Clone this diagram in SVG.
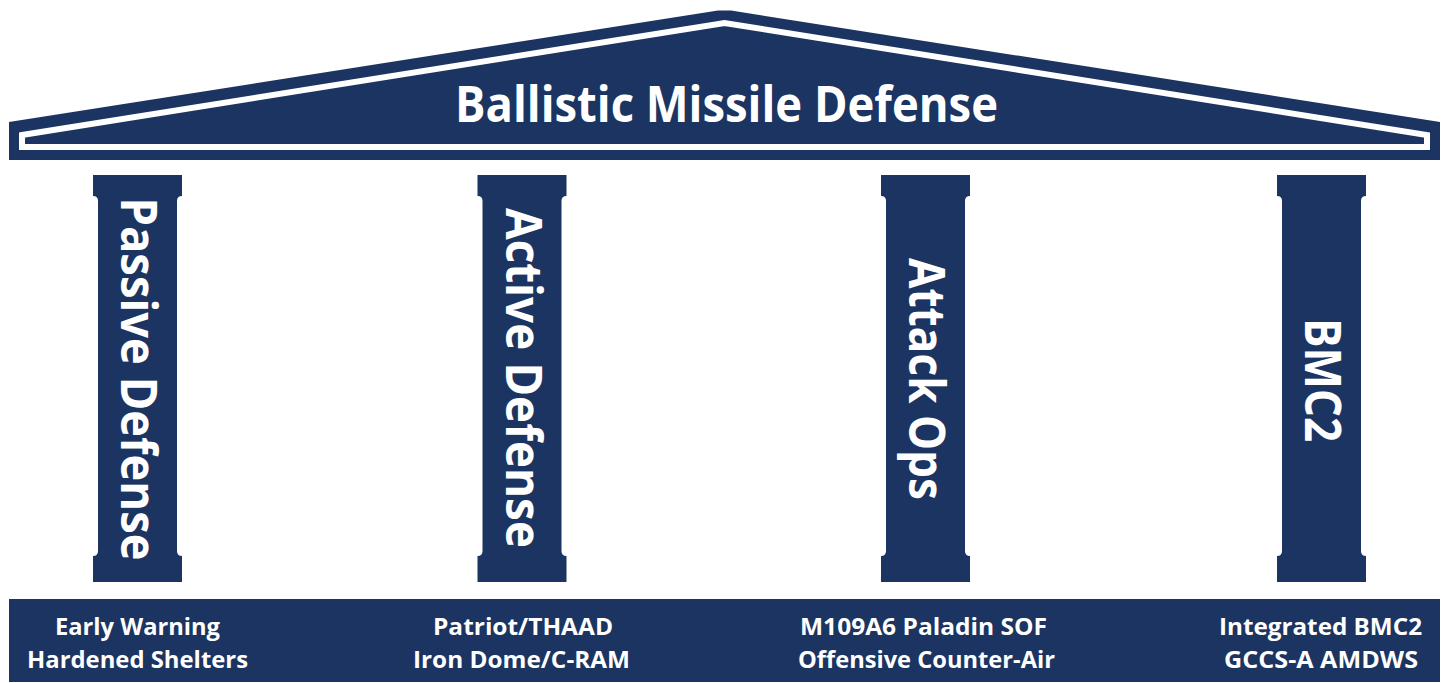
<svg xmlns="http://www.w3.org/2000/svg" xmlns:xlink="http://www.w3.org/1999/xlink" width="1445" height="683" viewBox="0 0 1445 683">
<style>
.navy{fill:#1b3461}
.title{font-family:"Open Sans","Noto Sans","Liberation Sans",sans-serif;font-weight:700;fill:#ffffff;font-size:50px;text-anchor:middle}
.col{font-family:"Open Sans","Noto Sans","Liberation Sans",sans-serif;font-weight:700;fill:#ffffff;font-size:50px;text-anchor:middle}
.base{font-family:"Open Sans","Noto Sans","Liberation Sans",sans-serif;font-weight:700;fill:#ffffff;font-size:24px;text-anchor:middle}
</style>
<defs>
<path id="column" d="M0,175 h89 v21 q-5,0 -5,5 v350 q0,5 5,5 v26 h-89 v-26 q5,0 5,-5 v-350 q0,-5 -5,-5 z"/>
</defs>
<rect width="1445" height="683" fill="#ffffff"/>
<g id="roof">
<polygon class="navy" points="9,122 718,10.5 731,10.5 1440,122 1440,160 9,160"/>
<polygon points="22,135 724.5,23 1427,135 1427,147 22,147" fill="none" stroke="#ffffff" stroke-width="6" stroke-linejoin="miter"/>
<text class="title" x="726.5" y="122" textLength="543" lengthAdjust="spacingAndGlyphs">Ballistic Missile Defense</text>
</g>
<g id="connectors"></g>
<g id="column-passive">
<use xlink:href="#column" href="#column" class="navy" x="93"/>
<text class="col" transform="translate(121,379) rotate(90)" x="0" y="0" textLength="363" lengthAdjust="spacingAndGlyphs">Passive Defense</text>
</g>
<g id="column-active">
<use xlink:href="#column" href="#column" class="navy" x="477.5"/>
<text class="col" transform="translate(505.5,378) rotate(90)" x="0" y="0" textLength="340" lengthAdjust="spacingAndGlyphs">Active Defense</text>
</g>
<g id="column-attack">
<use xlink:href="#column" href="#column" class="navy" x="881"/>
<text class="col" transform="translate(909,379) rotate(90)" x="0" y="0" textLength="242" lengthAdjust="spacingAndGlyphs">Attack Ops</text>
</g>
<g id="column-bmc2">
<use xlink:href="#column" href="#column" class="navy" x="1277"/>
<text class="col" transform="translate(1305,380) rotate(90)" x="0" y="0" textLength="124" lengthAdjust="spacingAndGlyphs">BMC2</text>
</g>
<g id="base">
<rect class="navy" x="9" y="599" width="1431" height="83"/>
<text class="base" x="137.5" y="635" textLength="165" lengthAdjust="spacingAndGlyphs">Early Warning</text>
<text class="base" x="137.5" y="668" textLength="221" lengthAdjust="spacingAndGlyphs">Hardened Shelters</text>
<text class="base" x="523" y="635" textLength="180" lengthAdjust="spacingAndGlyphs">Patriot/THAAD</text>
<text class="base" x="521.5" y="668" textLength="217" lengthAdjust="spacingAndGlyphs">Iron Dome/C-RAM</text>
<text class="base" x="923.5" y="635" textLength="247" lengthAdjust="spacingAndGlyphs">M109A6 Paladin SOF</text>
<text class="base" x="926.5" y="668" textLength="257" lengthAdjust="spacingAndGlyphs">Offensive Counter-Air</text>
<text class="base" x="1320.5" y="635" textLength="203" lengthAdjust="spacingAndGlyphs">Integrated BMC2</text>
<text class="base" x="1321" y="668" textLength="194" lengthAdjust="spacingAndGlyphs">GCCS-A AMDWS</text>
</g>
</svg>
